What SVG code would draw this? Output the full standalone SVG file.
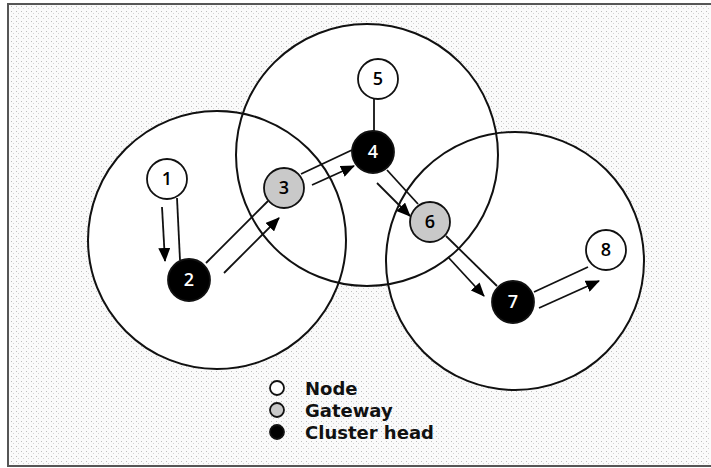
<svg xmlns="http://www.w3.org/2000/svg" width="711" height="468" viewBox="0 0 711 468">
<defs>
<pattern id="dots" width="5" height="5" patternUnits="userSpaceOnUse">
<rect width="5" height="5" fill="#fafafa"/>
<rect x="1" y="1" width="1" height="1" fill="#bdbdbd"/>
<rect x="3" y="3" width="1" height="1" fill="#d4d4d4"/>
</pattern>
<marker id="ah" markerWidth="14" markerHeight="12" refX="13" refY="6" orient="auto" markerUnits="userSpaceOnUse">
<path d="M0,0 L14,6 L0,12 Z" fill="#000"/>
</marker>
</defs>
<style>
.range{fill:#fff;stroke:none}
.rangeline{fill:none;stroke:#111;stroke-width:2}
.node{stroke:#111;stroke-width:1.8}
.plain{fill:#fff}
.gate{fill:#c9c9c9}
.head{fill:#000}
.lbl{font-family:"Open Sans","Noto Sans",sans-serif;font-size:18px;font-weight:600;text-anchor:middle}
.dark{fill:#000}
.light{fill:#fff}
.link{stroke:#111;stroke-width:1.8;fill:none}
.arrow{stroke:#111;stroke-width:1.8;fill:none;marker-end:url(#ah)}
.legend{font-family:"DejaVu Sans","Open Sans",sans-serif;font-size:18px;font-weight:bold;fill:#111}
</style>
<rect x="0" y="0" width="711" height="468" fill="#fff"/>
<rect x="8" y="4" width="705" height="462" fill="url(#dots)" stroke="#555" stroke-width="2"/>
<g id="ranges">
<circle class="range" cx="217" cy="240" r="129"/>
<circle class="range" cx="367" cy="155" r="131"/>
<circle class="range" cx="515" cy="261" r="129"/>
<circle class="rangeline" cx="217" cy="240" r="129"/>
<circle class="rangeline" cx="367" cy="155" r="131"/>
<circle class="rangeline" cx="515" cy="261" r="129"/>
</g>
<g id="connectors">
<line class="link" x1="177" y1="198" x2="180" y2="260"/>
<line class="arrow" x1="162" y1="207" x2="165" y2="261"/>
<line class="link" x1="206" y1="263" x2="268" y2="201"/>
<line class="arrow" x1="224" y1="273" x2="279" y2="218"/>
<line class="link" x1="301" y1="174" x2="352" y2="150"/>
<line class="arrow" x1="312" y1="185" x2="354" y2="166"/>
<line class="link" x1="374" y1="99" x2="374" y2="131"/>
<line class="link" x1="387" y1="170" x2="418" y2="204"/>
<line class="arrow" x1="377" y1="183" x2="410" y2="216"/>
<line class="link" x1="446" y1="236" x2="497" y2="286"/>
<line class="arrow" x1="448" y1="257" x2="484" y2="296"/>
<line class="link" x1="534" y1="292" x2="588" y2="267"/>
<line class="arrow" x1="539" y1="308" x2="599" y2="281"/>
</g>
<g id="n1"><circle class="node plain" cx="167" cy="179" r="20"/><text class="lbl dark" x="167" y="185">1</text></g>
<g id="n2"><circle class="node head" cx="189" cy="280" r="21"/><text class="lbl light" x="189" y="286">2</text></g>
<g id="n3"><circle class="node gate" cx="284" cy="188" r="20"/><text class="lbl dark" x="284" y="194">3</text></g>
<g id="n4"><circle class="node head" cx="373" cy="152" r="21"/><text class="lbl light" x="373" y="158">4</text></g>
<g id="n5"><circle class="node plain" cx="378" cy="79" r="20"/><text class="lbl dark" x="378" y="85">5</text></g>
<g id="n6"><circle class="node gate" cx="430" cy="222" r="20"/><text class="lbl dark" x="430" y="228">6</text></g>
<g id="n7"><circle class="node head" cx="513" cy="302" r="21"/><text class="lbl light" x="513" y="308">7</text></g>
<g id="n8"><circle class="node plain" cx="606" cy="250" r="20"/><text class="lbl dark" x="606" y="256">8</text></g>
<g id="legend">
<circle cx="277" cy="388" r="7" fill="#fff" stroke="#111" stroke-width="1.8"/>
<circle cx="277" cy="410" r="7" fill="#c9c9c9" stroke="#111" stroke-width="1.8"/>
<circle cx="277" cy="432" r="7" fill="#000" stroke="#111" stroke-width="1.8"/>
<text class="legend" x="305" y="395">Node</text>
<text class="legend" x="305" y="417">Gateway</text>
<text class="legend" x="305" y="439">Cluster head</text>
</g>
</svg>
